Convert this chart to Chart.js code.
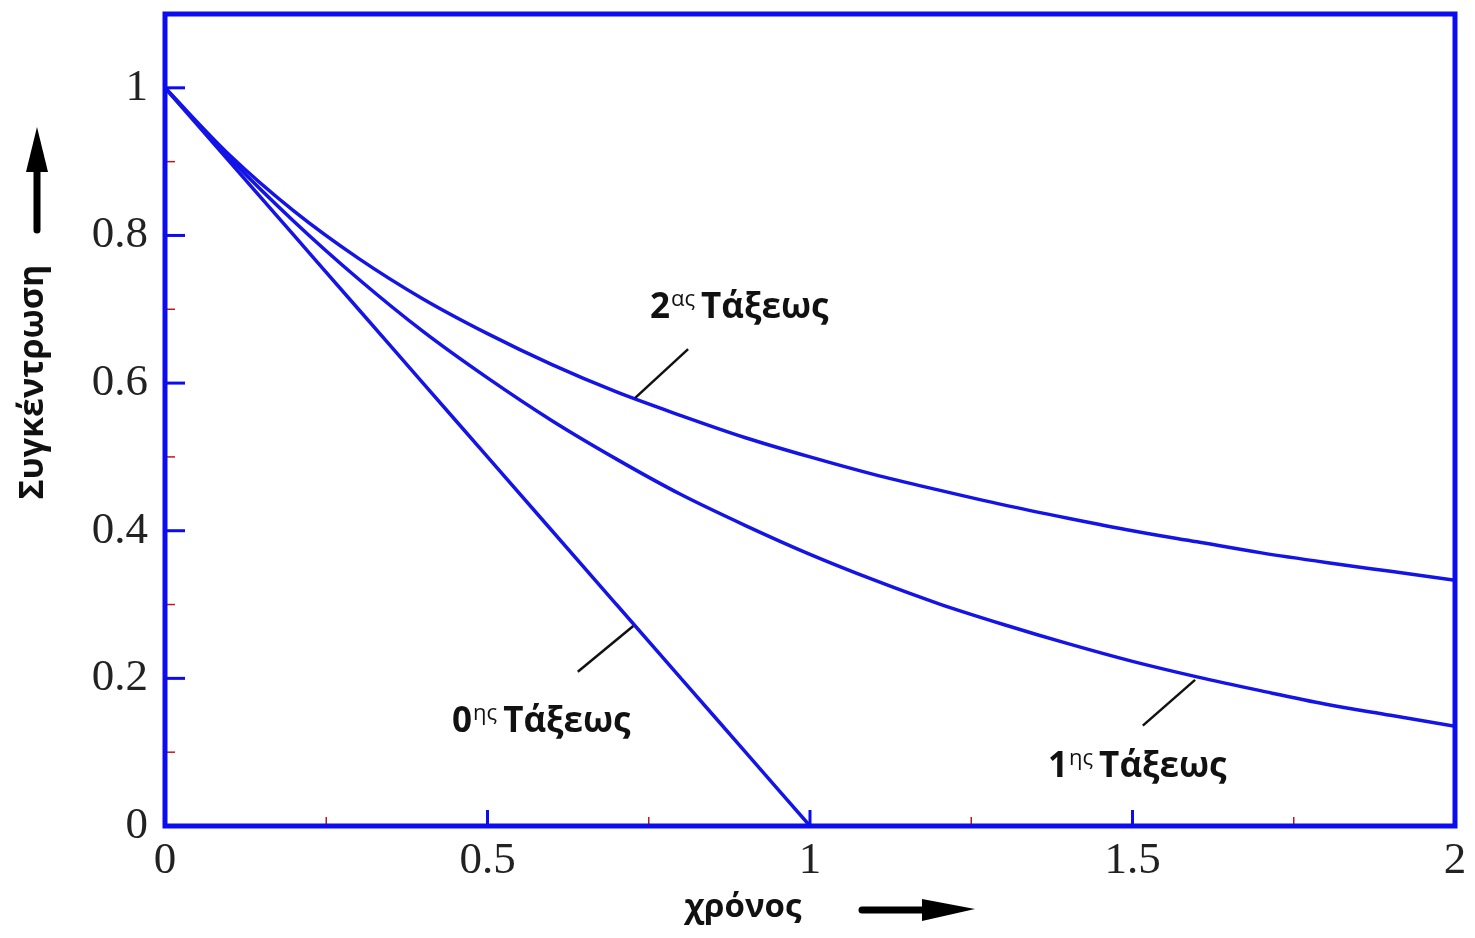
<!DOCTYPE html>
<html><head><meta charset="utf-8">
<script src="https://cdn.jsdelivr.net/npm/chart.js@4"></script>
<style>html,body{margin:0;padding:0;background:#fff}canvas{display:block}</style>
</head><body>
<canvas id="c" width="1475" height="938"></canvas>
<script>
// ---- data ----
const timeZero   = [0, 0.1, 0.2, 0.3, 0.4, 0.5, 0.6, 0.7, 0.8, 0.9, 1.0];
const concZero   = [1, 0.9, 0.8, 0.7, 0.6, 0.5, 0.4, 0.3, 0.2, 0.1, 0];
const timeFirst  = [0, 0.1, 0.2, 0.3, 0.4, 0.5, 0.6, 0.7, 0.8, 0.9, 1.0, 1.1, 1.2, 1.3, 1.4, 1.5, 1.6, 1.7, 1.8, 1.9, 2.0];
const concFirst  = [1, 0.905, 0.819, 0.741, 0.670, 0.607, 0.549, 0.497, 0.449, 0.407, 0.368, 0.333, 0.301, 0.273, 0.247, 0.223, 0.202, 0.183, 0.165, 0.150, 0.135];
const timeSecond = [0, 0.1, 0.2, 0.3, 0.4, 0.5, 0.6, 0.7, 0.8, 0.9, 1.0, 1.1, 1.2, 1.3, 1.4, 1.5, 1.6, 1.7, 1.8, 1.9, 2.0];
const concSecond = [1, 0.909, 0.833, 0.769, 0.714, 0.667, 0.625, 0.588, 0.556, 0.526, 0.500, 0.476, 0.455, 0.435, 0.417, 0.400, 0.385, 0.370, 0.357, 0.345, 0.333];

const xTicks = [0, 0.5, 1, 1.5, 2];
const xTickLabels = ['0', '0.5', '1', '1.5', '2'];
const yTicks = [0, 0.2, 0.4, 0.6, 0.8, 1];
const yTickLabels = ['0', '0.2', '0.4', '0.6', '0.8', '1'];
const xMinorTicks = [0.25, 0.75, 1.25, 1.75];
const yMinorTicks = [0.1, 0.3, 0.5, 0.7, 0.9];

const seriesNumber = ['0', '1', '2'];
const seriesSup = ['ης', 'ης', 'ας'];
const seriesWord = 'Τάξεως';
const xTitle = 'χρόνος';
const yTitle = 'Συγκέντρωση';

// ---- styling ----
const BLUE = '#0c0cf0';
const CURVE = '#1414e6';
const toPts = (xs, ys) => xs.map((x, i) => ({x, y: ys[i]}));

// annotation placement (data coords): leader line start/end, text anchor (left, baseline)
const annot = [
  {line: [0.726, 0.271, 0.640, 0.209], text: [0.445, 0.128]},
  {line: [1.597, 0.198, 1.516, 0.136], text: [1.369, 0.066]},
  {line: [0.729, 0.580, 0.811, 0.646], text: [0.752, 0.688]}
];

const framePlugin = {
  id: 'frame',
  beforeDraw(chart) {
    const c = chart.ctx;
    c.save(); c.fillStyle = '#fff'; c.fillRect(0, 0, chart.width, chart.height); c.restore();
  },
  afterDraw(chart) {
    const c = chart.ctx, a = chart.chartArea;
    const xs = chart.scales.x, ys = chart.scales.y;
    c.save();
    // major ticks
    c.strokeStyle = BLUE; c.lineWidth = 3;
    xTicks.forEach(v => { const px = xs.getPixelForValue(v); c.beginPath(); c.moveTo(px, a.bottom); c.lineTo(px, a.bottom - 16); c.stroke(); });
    yTicks.forEach(v => { const py = ys.getPixelForValue(v); c.beginPath(); c.moveTo(a.left, py); c.lineTo(a.left + 20, py); c.stroke(); });
    // minor ticks
    c.strokeStyle = '#c01818'; c.lineWidth = 1.5;
    xMinorTicks.forEach(v => { const px = xs.getPixelForValue(v); c.beginPath(); c.moveTo(px, a.bottom); c.lineTo(px, a.bottom - 9); c.stroke(); });
    yMinorTicks.forEach(v => { const py = ys.getPixelForValue(v); c.beginPath(); c.moveTo(a.left, py); c.lineTo(a.left + 10, py); c.stroke(); });
    // frame
    c.strokeStyle = BLUE; c.lineWidth = 5;
    c.strokeRect(a.left, a.top, a.right - a.left, a.bottom - a.top);
    // annotations
    c.fillStyle = '#111'; c.strokeStyle = '#111'; c.lineWidth = 2.5;
    annot.forEach((an, i) => {
      c.beginPath();
      c.moveTo(xs.getPixelForValue(an.line[0]), ys.getPixelForValue(an.line[1]));
      c.lineTo(xs.getPixelForValue(an.line[2]), ys.getPixelForValue(an.line[3]));
      c.stroke();
      let tx = xs.getPixelForValue(an.text[0]);
      const ty = ys.getPixelForValue(an.text[1]);
      c.textBaseline = 'alphabetic'; c.textAlign = 'left';
      c.font = 'bold 35px "Open Sans"';
      c.fillText(seriesNumber[i], tx, ty); tx += c.measureText(seriesNumber[i]).width + 1;
      c.font = '22px "Open Sans"';
      c.fillText(seriesSup[i], tx, ty - 12); tx += c.measureText(seriesSup[i]).width + 6;
      c.font = 'bold 35px "Open Sans"';
      c.fillText(seriesWord, tx, ty);
    });
    // axis titles
    c.textAlign = 'center'; c.textBaseline = 'middle';
    c.font = 'bold 33px "Open Sans"';
    c.fillText(xTitle, 743, 908);
    c.font = 'bold 34px "Open Sans"';
    c.save(); c.translate(33, 382); c.rotate(-Math.PI / 2); c.fillText(yTitle, 0, 0); c.restore();
    // arrows
    c.fillStyle = '#000'; c.strokeStyle = '#000'; c.lineWidth = 7; c.lineCap = 'round';
    c.beginPath(); c.moveTo(862, 910); c.lineTo(935, 910); c.stroke();
    c.beginPath(); c.moveTo(922, 899); c.lineTo(975, 909); c.lineTo(922, 921); c.closePath(); c.fill();
    c.beginPath(); c.moveTo(37, 230); c.lineTo(37, 165); c.stroke();
    c.beginPath(); c.moveTo(26, 172); c.lineTo(37, 127); c.lineTo(48, 172); c.closePath(); c.fill();
    c.restore();
  }
};

const tickFont = {family: '"Liberation Serif", "Times New Roman", serif', size: 45};

new Chart(document.getElementById('c'), {
  type: 'line',
  data: {
    datasets: [
      {data: toPts(timeZero, concZero)},
      {data: toPts(timeFirst, concFirst)},
      {data: toPts(timeSecond, concSecond)}
    ].map(d => Object.assign(d, {borderColor: CURVE, borderWidth: 3.5, pointRadius: 0, cubicInterpolationMode: 'monotone', fill: false}))
  },
  options: {
    responsive: false,
    animation: false,
    events: [],
    layout: {padding: {left: 0, top: 14, right: 20, bottom: 0}},
    plugins: {legend: {display: false}, tooltip: {enabled: false}},
    scales: {
      x: {
        type: 'linear', min: 0, max: 2,
        grid: {display: false}, border: {display: false},
        afterBuildTicks: s => { s.ticks = xTicks.map(v => ({value: v})); },
        afterFit: s => { s.height = 112; s.paddingLeft = 0; s.paddingRight = 0; },
        ticks: {font: tickFont, color: '#222', padding: 0, maxRotation: 0, autoSkip: false,
                callback: v => xTickLabels[xTicks.indexOf(v)]}
      },
      y: {
        type: 'linear', min: 0, max: 1.1,
        grid: {display: false}, border: {display: false},
        afterBuildTicks: s => { s.ticks = yTicks.map(v => ({value: v})); },
        afterFit: s => { s.width = 165; s.paddingTop = 0; s.paddingBottom = 0; },
        ticks: {font: tickFont, color: '#222', padding: 9, autoSkip: false,
                callback: v => yTickLabels[yTicks.indexOf(v)]}
      }
    }
  },
  plugins: [framePlugin]
});
</script>
</body></html>
